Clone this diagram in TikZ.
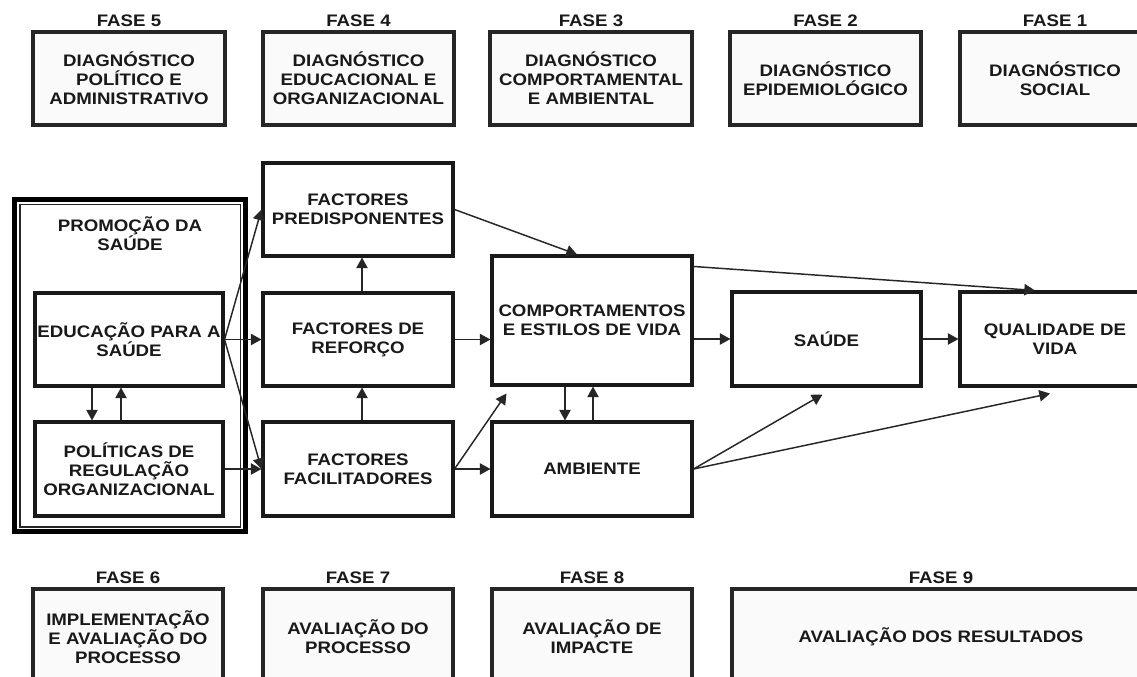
\documentclass[tikz,border=0pt]{standalone}
\usepackage{fontspec}
\setmainfont{Liberation Sans}[FakeStretch=1.12]
\usetikzlibrary{arrows.meta,calc}
\begin{document}
\begin{tikzpicture}[x=0.75pt,y=-0.75pt,
  txt/.style={font=\fontsize{12.5}{14.25}\selectfont\bfseries, text=black!90, align=center},
  phasebox/.style={txt, draw=black!85, line width=2.3pt, fill=black!2, inner sep=0pt},
  midbox/.style={txt, draw=black!90, line width=2.3pt, fill=white, inner sep=0pt},
  phaselabel/.style={txt, inner sep=0pt, anchor=south},
  arr/.style={draw=black!85, line width=1.1pt, -{Triangle[length=8pt,width=8.5pt]}}
]
\clip (0,0) rectangle (1137,677);
\fill[white] (0,0) rectangle (1137,677);

% top phases
\node[phasebox, minimum width=192*0.75pt, minimum height=93*0.75pt] (f5) at (129,78.5) {DIAGNÓSTICO\\POLÍTICO E\\ADMINISTRATIVO};
\node[phasebox, minimum width=191*0.75pt, minimum height=93*0.75pt] (f4) at (358.5,78.5) {DIAGNÓSTICO\\EDUCACIONAL E\\ORGANIZACIONAL};
\node[phasebox, minimum width=202*0.75pt, minimum height=93*0.75pt] (f3) at (591,78.5) {DIAGNÓSTICO\\COMPORTAMENTAL\\E AMBIENTAL};
\node[phasebox, minimum width=191*0.75pt, minimum height=93*0.75pt] (f2) at (825.5,78.5) {DIAGNÓSTICO\\EPIDEMIOLÓGICO};
\node[phasebox, minimum width=190*0.75pt, minimum height=93*0.75pt] (f1) at (1055,78.5) {DIAGNÓSTICO\\SOCIAL};
\node[phaselabel] (l5) at ([yshift=3pt]f5.north) {FASE 5};
\node[phaselabel] (l4) at ([yshift=3pt]f4.north) {FASE 4};
\node[phaselabel] (l3) at ([yshift=3pt]f3.north) {FASE 3};
\node[phaselabel] (l2) at ([yshift=3pt]f2.north) {FASE 2};
\node[phaselabel] (l1) at ([yshift=3pt]f1.north) {FASE 1};

% bottom phases
\node[phasebox, minimum width=190*0.75pt, minimum height=96*0.75pt] (f6) at (128,637) {IMPLEMENTAÇÃO\\E AVALIAÇÃO DO\\PROCESSO};
\node[phasebox, minimum width=190*0.75pt, minimum height=96*0.75pt] (f7) at (358,637) {AVALIAÇÃO DO\\PROCESSO};
\node[phasebox, minimum width=200*0.75pt, minimum height=96*0.75pt] (f8) at (592,637) {AVALIAÇÃO DE\\IMPACTE};
\node[phasebox, minimum width=418*0.75pt, minimum height=96*0.75pt] (f9) at (941,637) {AVALIAÇÃO DOS RESULTADOS};
\node[phaselabel] (l6) at ([yshift=3pt]f6.north) {FASE 6};
\node[phaselabel] (l7) at ([yshift=3pt]f7.north) {FASE 7};
\node[phaselabel] (l8) at ([yshift=3pt]f8.north) {FASE 8};
\node[phaselabel] (l9) at ([yshift=3pt]f9.north) {FASE 9};

% promocao frame
\draw[black, line width=3.75pt] (14.5,200) rectangle (245.5,531.5);
\draw[black!85, line width=1pt] (20,204.5) rectangle (240.5,527);
\node[txt] (promo) at (130,234) {PROMOÇÃO DA\\SAÚDE};

% middle boxes
\node[midbox, minimum width=188*0.75pt, minimum height=93*0.75pt] (educ) at (129,339.5) {EDUCAÇÃO PARA A\\SAÚDE};
\node[midbox, minimum width=188*0.75pt, minimum height=94*0.75pt] (polit) at (129,469) {POLÍTICAS DE\\REGULAÇÃO\\ORGANIZACIONAL};
\node[midbox, minimum width=190*0.75pt, minimum height=93*0.75pt] (pred) at (358,209.5) {FACTORES\\PREDISPONENTES};
\node[midbox, minimum width=190*0.75pt, minimum height=93*0.75pt] (refo) at (358,339.5) {FACTORES DE\\REFORÇO};
\node[midbox, minimum width=190*0.75pt, minimum height=94*0.75pt] (faci) at (358,469) {FACTORES\\FACILITADORES};
\node[midbox, minimum width=200*0.75pt, minimum height=129*0.75pt] (comp) at (592,320.5) {COMPORTAMENTOS\\E ESTILOS DE VIDA};
\node[midbox, minimum width=200*0.75pt, minimum height=94*0.75pt] (amb) at (592,469) {AMBIENTE};
\node[midbox, minimum width=189*0.75pt, minimum height=94*0.75pt] (sau) at (826.5,339) {SAÚDE};
\node[midbox, minimum width=190*0.75pt, minimum height=94*0.75pt] (qual) at (1055,339) {QUALIDADE DE\\VIDA};

% free-end coordinates
\coordinate (compTop) at ($(comp.north)+(-15,0)$);
\coordinate (compBot) at ($(comp.south west)+(16,7)$);
\coordinate (compNE) at ($(comp.north east)+(0,12)$);
\coordinate (qualTop) at ($(qual.north)+(-20,0)$);
\coordinate (sauBot) at ($(sau.south)+(-4,7)$);
\coordinate (qualBot) at ($(qual.south)+(-5,6)$);

% connectors
\draw[arr] (educ.east) -- (pred.west);
\draw[arr] (educ.east) -- (refo.west);
\draw[arr] (educ.east) -- (faci.west);
\draw[arr] (polit.east) -- (faci.west);
\draw[arr] ([xshift=-27.75pt]educ.south) -- ([xshift=-27.75pt]polit.north);
\draw[arr] ([xshift=-6pt]polit.north) -- ([xshift=-6pt]educ.south);
\draw[arr] ([xshift=3pt]refo.north) -- ([xshift=3pt]pred.south);
\draw[arr] ([xshift=3pt]faci.north) -- ([xshift=3pt]refo.south);
\draw[arr] (pred.east) -- (compTop);
\draw[arr] (refo.east) -- (refo.east -| comp.west);
\draw[arr] (faci.east) -- (compBot);
\draw[arr] (faci.east) -- (amb.west);
\draw[arr] ([xshift=-20.25pt]comp.south) -- ([xshift=-20.25pt]amb.north);
\draw[arr] ([xshift=0.75pt]amb.north) -- ([xshift=0.75pt]comp.south);
\draw[arr] (comp.east |- sau.west) -- (sau.west);
\draw[arr] (sau.east) -- (qual.west);
\draw[arr] (compNE) -- (qualTop);
\draw[arr] (amb.east) -- (sauBot);
\draw[arr] (amb.east) -- (qualBot);
\end{tikzpicture}
\end{document}
